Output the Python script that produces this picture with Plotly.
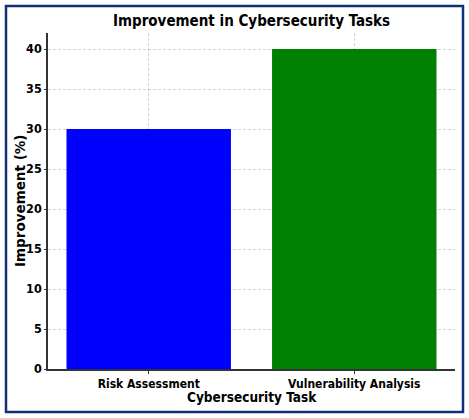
import plotly.graph_objects as go

categories = ["Risk Assessment", "Vulnerability Analysis"]
improvement = [30, 40]
bar_colors = ["blue", "green"]
y_ticks = [0, 5, 10, 15, 20, 25, 30, 35, 40]

W, H = 469, 418
L, R, T, B = 48, 14, 33, 49
pw, ph = W - L - R, H - T - B

FONT = "DejaVu Sans Condensed, Liberation Sans Narrow, DejaVu Sans"

fig = go.Figure(go.Bar(
    x=categories, y=improvement, marker=dict(color=bar_colors, line=dict(width=0)),
    width=0.8,
))

def px2paper_x(px):
    return (px - L) / pw

def px2paper_y(py):
    return (H - B - py) / ph

grid = dict(showgrid=True, gridcolor="rgba(160,160,160,0.45)", griddash="3px,2px", gridwidth=1)

fig.update_layout(
    width=W, height=H,
    margin=dict(l=L, r=R, t=T, b=B, autoexpand=False),
    paper_bgcolor="white", plot_bgcolor="white",
    showlegend=False,
    title=dict(text="<b>Improvement in Cybersecurity Tasks</b>", x=(L + pw / 2) / W, xanchor="center",
               y=1 - 21 / H, yanchor="middle", font=dict(family=FONT, size=15, color="black")),
    xaxis=dict(range=[-0.49, 1.49], **grid, showline=True, linecolor="#333", linewidth=1.5,
               ticks="outside", ticklen=3, tickcolor="#333", automargin=False,
               tickfont=dict(family=FONT, size=12, color="black"),
               tickvals=categories, ticktext=[f"<b>{c}</b>" for c in categories]),
    yaxis=dict(range=[0, 42], **grid, showline=True, linecolor="#333", linewidth=1.5,
               ticks="outside", ticklen=2, tickcolor="#333", zeroline=False, automargin=False,
               tickvals=y_ticks, ticktext=[f"<b>{v}</b>" for v in y_ticks],
               tickfont=dict(family=FONT, size=12.5, color="black")),
    annotations=[
        dict(text="<b>Cybersecurity Task</b>", xref="paper", yref="paper", x=0.5, y=px2paper_y(397),
             xanchor="center", yanchor="middle", showarrow=False,
             font=dict(family=FONT, size=13.5, color="black")),
        dict(text="<b>Improvement (%)</b>", xref="paper", yref="paper", x=px2paper_x(20), y=px2paper_y(201),
             xanchor="center", yanchor="middle", showarrow=False, textangle=-90,
             font=dict(family="DejaVu Sans", size=13.5, color="black")),
    ],
    shapes=[dict(type="rect", xref="paper", yref="paper",
                 x0=px2paper_x(6), x1=px2paper_x(463), y0=px2paper_y(412), y1=px2paper_y(6),
                 line=dict(color="#12307a", width=2.5), fillcolor="rgba(0,0,0,0)", layer="above")],
)

fig.write_html("out.html", config={"displayModeBar": False},
               post_script="document.body.style.margin='0';document.body.style.overflow='hidden';")
